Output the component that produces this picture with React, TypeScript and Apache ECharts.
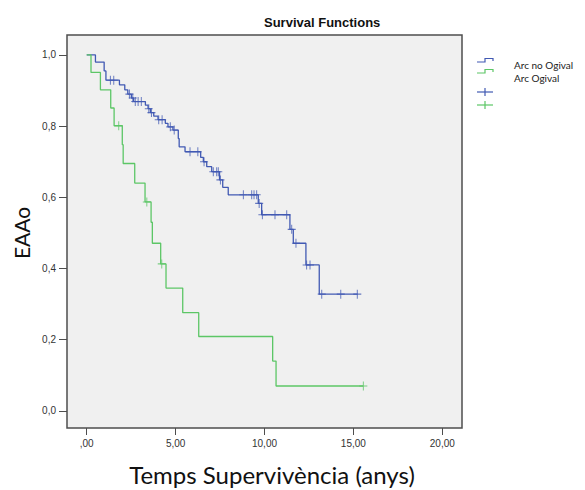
import React, { useEffect, useRef } from "react";
import * as echarts from "echarts";

// ---- data ----
const xTickValues = [0, 5, 10, 15, 20];
const yTickValues = [0, 0.2, 0.4, 0.6, 0.8, 1.0];

const blueName = "Arc no Ogival";
const blueDropTimes = [0.49, 0.98, 1.08, 1.84, 2.14, 2.31, 2.51, 2.64, 3.30, 3.45, 3.58, 3.77, 4.01, 4.42, 4.57, 4.85, 5.15, 5.20, 5.53, 6.41, 6.56, 6.75, 7.03, 7.47, 7.65, 7.96, 9.65, 9.84, 11.43, 11.62, 12.33, 13.08];
const blueSurvival = [0.980, 0.955, 0.929, 0.916, 0.902, 0.890, 0.879, 0.869, 0.859, 0.849, 0.838, 0.828, 0.818, 0.808, 0.798, 0.789, 0.765, 0.742, 0.728, 0.712, 0.700, 0.686, 0.672, 0.649, 0.628, 0.607, 0.583, 0.551, 0.510, 0.471, 0.410, 0.328];
const blueCensorTimes = [1.33, 1.52, 2.40, 2.59, 2.73, 2.89, 3.07, 3.49, 3.64, 4.05, 4.24, 4.70, 4.92, 5.81, 6.25, 6.60, 7.12, 7.31, 7.40, 7.52, 8.81, 9.28, 9.41, 9.56, 9.70, 9.88, 10.59, 11.25, 11.53, 11.77, 12.37, 12.56, 13.22, 14.29, 15.22];
const blueEndTime = 15.25;

const greenName = "Arc Ogival";
const greenDropTimes = [0.24, 0.77, 1.35, 1.54, 2.00, 2.05, 2.70, 3.28, 3.62, 3.69, 4.16, 4.46, 5.40, 6.30, 10.46, 10.65];
const greenSurvival = [0.951, 0.902, 0.851, 0.801, 0.748, 0.695, 0.640, 0.587, 0.530, 0.471, 0.413, 0.345, 0.276, 0.209, 0.140, 0.070];
const greenCensorTimes = [1.80, 3.38, 4.22, 15.56];
const greenEndTime = 15.56;

const BLUE = "#4159b3";
const GREEN = "#5cc666";
const PLUS = "path://M0,4.4L10,4.4L10,5.6L0,5.6Z M4.4,0L5.6,0L5.6,10L4.4,10Z";

function stepData(times: number[], surv: number[], end: number) {
  const pts: number[][] = [[0, 1]];
  times.forEach((t, i) => pts.push([t, surv[i]]));
  pts.push([end, surv[surv.length - 1]]);
  return pts;
}
function levelAt(times: number[], surv: number[], t: number) {
  let s = 1;
  for (let i = 0; i < times.length; i++) if (times[i] <= t) s = surv[i];
  return s;
}
function censorData(ct: number[], times: number[], surv: number[]) {
  return ct.map((t) => [t, levelAt(times, surv, t)]);
}

export default function App() {
  const ref = useRef<HTMLDivElement>(null);
  useEffect(() => {
    if (!ref.current) return;
    const chart = echarts.init(ref.current, undefined, { renderer: "svg" });
    const tickFont = { fontFamily: "Liberation Sans", fontSize: 10, color: "#333" };
    chart.setOption({
      animation: false,
      backgroundColor: "#ffffff",
      title: {
        text: "Survival Functions",
        left: 259,
        top: 11,
        textStyle: { fontFamily: "Liberation Sans", fontSize: 13, fontWeight: "bold", color: "#111" },
      },
      grid: {
        left: 67,
        top: 35,
        width: 395,
        height: 393,
        show: true,
        backgroundColor: "#f0f0f0",
        borderColor: "#4d4d4d",
        borderWidth: 1.5,
      },
      xAxis: {
        type: "value",
        min: -1.11,
        max: 21.11,
        axisLine: { show: false, onZero: false },
        splitLine: { show: false },
        axisTick: { show: true, length: 7, customValues: xTickValues, lineStyle: { color: "#4d4d4d", width: 1 } },
        axisLabel: {
          show: true,
          margin: 10,
          customValues: xTickValues,
          ...tickFont,
          formatter: (v: number) => (v === 0 ? ",00" : v.toFixed(2).replace(".", ",")),
        },
      },
      yAxis: {
        type: "value",
        min: -0.048,
        max: 1.056,
        axisLine: { show: false, onZero: false },
        splitLine: { show: false },
        axisTick: { show: true, length: 8, customValues: yTickValues, lineStyle: { color: "#4d4d4d", width: 1 } },
        axisLabel: {
          show: true,
          margin: 11,
          customValues: yTickValues,
          ...tickFont,
          formatter: (v: number) => v.toFixed(1).replace(".", ","),
        },
      },
      series: [
        {
          name: blueName,
          type: "line",
          step: "end",
          showSymbol: false,
          data: stepData(blueDropTimes, blueSurvival, blueEndTime),
          lineStyle: { color: BLUE, width: 1.3 },
          z: 2,
        },
        {
          name: greenName,
          type: "line",
          step: "end",
          showSymbol: false,
          data: stepData(greenDropTimes, greenSurvival, greenEndTime),
          lineStyle: { color: GREEN, width: 1.3 },
          z: 2,
        },
        {
          name: blueName + " censored",
          type: "scatter",
          symbol: PLUS,
          symbolSize: [8, 9],
          symbolKeepAspect: false,
          itemStyle: { color: BLUE },
          data: censorData(blueCensorTimes, blueDropTimes, blueSurvival),
          z: 3,
        },
        {
          name: greenName + " censored",
          type: "scatter",
          symbol: PLUS,
          symbolSize: [8, 9],
          symbolKeepAspect: false,
          itemStyle: { color: GREEN },
          data: censorData(greenCensorTimes, greenDropTimes, greenSurvival),
          z: 3,
        },
      ],
      graphic: [
        {
          type: "polyline",
          shape: { points: [[477, 62], [485, 62], [485, 58.5], [493, 58.5], [493, 61]] },
          style: { stroke: BLUE, lineWidth: 1.2, fill: null },
        },
        {
          type: "polyline",
          shape: { points: [[477, 73], [485, 73], [485, 69.5], [493, 69.5], [493, 72]] },
          style: { stroke: GREEN, lineWidth: 1.2, fill: null },
        },
        { type: "line", shape: { x1: 477, y1: 92, x2: 493, y2: 92 }, style: { stroke: BLUE, lineWidth: 1.2 } },
        { type: "line", shape: { x1: 485, y1: 88, x2: 485, y2: 96 }, style: { stroke: BLUE, lineWidth: 1.2 } },
        { type: "line", shape: { x1: 477, y1: 105, x2: 493, y2: 105 }, style: { stroke: GREEN, lineWidth: 1.2 } },
        { type: "line", shape: { x1: 485, y1: 101, x2: 485, y2: 109 }, style: { stroke: GREEN, lineWidth: 1.2 } },
        {
          type: "text",
          x: 514,
          y: 65,
          style: { text: blueName, fontFamily: "Lato", fontSize: 10, fill: "#222", verticalAlign: "middle" },
        },
        {
          type: "text",
          x: 514,
          y: 78,
          style: { text: greenName, fontFamily: "Lato", fontSize: 10, fill: "#222", verticalAlign: "middle" },
        },
        {
          type: "text",
          x: 272,
          y: 474,
          style: {
            text: "Temps Supervivència (anys)",
            fontFamily: "Lato",
            fontSize: 24,
            fill: "#111",
            align: "center",
            verticalAlign: "middle",
          },
        },
        {
          type: "text",
          x: 21,
          y: 233,
          rotation: Math.PI / 2,
          style: {
            text: "EAAo",
            fontFamily: "Lato",
            fontSize: 21,
            fill: "#111",
            align: "center",
            verticalAlign: "middle",
          },
        },
      ],
    });
    return () => chart.dispose();
  }, []);
  return <div ref={ref} style={{ position: "absolute", left: 0, top: 0, width: 585, height: 490 }} />;
}
